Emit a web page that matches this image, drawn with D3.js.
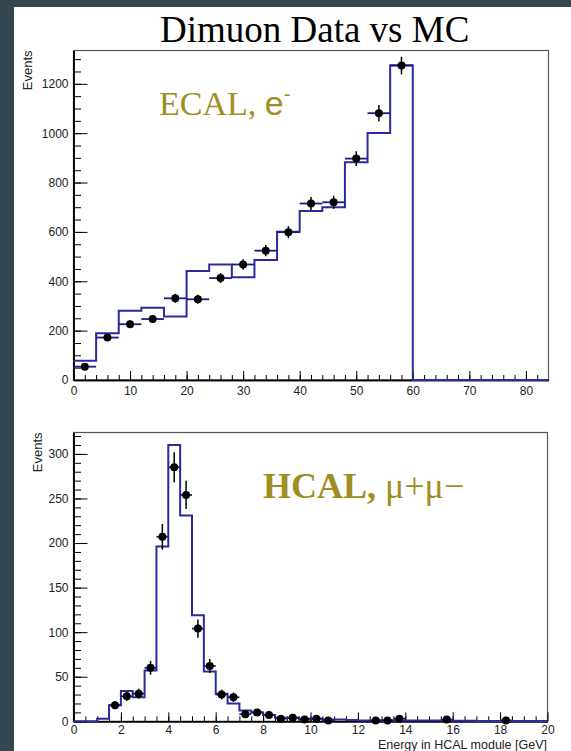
<!DOCTYPE html>
<html>
<head>
<meta charset="utf-8">
<script src="https://cdn.jsdelivr.net/npm/d3@7"></script>
<style>
    body { margin: 0; background: #37474f; }
    .tick text { font-family: "Liberation Sans", Arial, sans-serif; font-size: 12px; fill: #222; }
    .domain { stroke: #000; stroke-width: 1.5; }
    .tick line { stroke: #000; stroke-width: 1; }
</style>
</head>
<body>
<svg id="chart" width="571" height="751"></svg>
<script>
// ECAL panel: bins of 4 GeV
const ecalBinWidth = 4;
const ecalCenters = [2, 6, 10, 14, 18, 22, 26, 30, 34, 38, 42, 46, 50, 54, 58, 62, 66, 70, 74, 78, 82];
const ecalData = [54, 172, 226, 247, 331, 327, 413, 468, 524, 599, 715, 720, 897, 1081, 1274, 0, 0, 0, 0, 0, 0];
const ecalMC = [78, 189, 281, 293, 257, 442, 468, 416, 486, 601, 685, 700, 882, 1001, 1275, 0, 0, 0, 0, 0, 0];
const ecalXTicks = [0, 10, 20, 30, 40, 50, 60, 70, 80];
const ecalYTicks = [0, 200, 400, 600, 800, 1000, 1200];

// HCAL panel: bins of 0.5 GeV
const hcalBinWidth = 0.5;
const hcalCenters = [0.25, 0.75, 1.25, 1.75, 2.25, 2.75, 3.25, 3.75, 4.25, 4.75,
    5.25, 5.75, 6.25, 6.75, 7.25, 7.75, 8.25, 8.75, 9.25, 9.75,
    10.25, 10.75, 11.25, 11.75, 12.25, 12.75, 13.25, 13.75, 14.25, 14.75,
    15.25, 15.75, 16.25, 16.75, 17.25, 17.75, 18.25, 18.75, 19.25, 19.75];
const hcalData = [0, 0, 0, 18, 28, 31, 60, 207, 285, 254,
    104, 62, 30, 27, 8, 10, 7, 3, 4, 2,
    3, 1, 0, 0, 0, 1, 1, 3, 0, 0,
    0, 2, 0, 0, 0, 0, 1, 0, 0, 0];
const hcalMC = [0, 0, 3, 18, 34, 27, 57, 196, 310, 231,
    119, 56, 31, 20, 12, 10, 7, 4, 4, 3,
    3, 2, 2, 1.5, 1, 1, 1, 1, 1, 1,
    1, 1, 0.5, 0.5, 0.3, 0.3, 0.3, 0.3, 0.2, 0.2];
const hcalXTicks = [0, 2, 4, 6, 8, 10, 12, 14, 16, 18, 20];
const hcalYTicks = [0, 50, 100, 150, 200, 250, 300];

const mcColor = '#2b2b9e';
const labelColor = '#a08e22';

const svg = d3.select('#chart');
svg.append('rect').attr('width', 571).attr('height', 751).attr('fill', '#37474f');
svg.append('rect').attr('x', 14).attr('y', 7).attr('width', 557).attr('height', 744).attr('fill', '#fff');

svg.append('text')
    .attr('x', 160).attr('y', 42)
    .attr('font-family', '"Liberation Serif", "Times New Roman", serif')
    .attr('font-size', 37)
    .attr('fill', '#000')
    .text('Dimuon Data vs MC');

/**
 * draw one histogram pad: frame, axes, MC step line and data points with errors
 */
function drawPad(cfg){
    const x = d3.scaleLinear().domain(cfg.xDomain).range([cfg.left, cfg.right]);
    const y = d3.scaleLinear().domain(cfg.yDomain).range([cfg.bottom, cfg.top]);
    const g = svg.append('g');

    g.append('rect')
        .attr('x', cfg.left).attr('y', cfg.top)
        .attr('width', cfg.right - cfg.left).attr('height', cfg.bottom - cfg.top)
        .attr('fill', 'none').attr('stroke', '#555').attr('stroke-width', 1.2);

    // minor ticks first, then major ticks with labels
    g.append('g').attr('transform', 'translate(' + cfg.left + ',0)')
        .call(d3.axisLeft(y).tickValues(d3.range(cfg.yDomain[0], cfg.yDomain[1], cfg.yMinor))
            .tickSizeInner(-7.5).tickSizeOuter(0).tickFormat(''));
    g.append('g').attr('transform', 'translate(' + cfg.left + ',0)')
        .call(d3.axisLeft(y).tickValues(cfg.yTicks).tickFormat(d3.format('d'))
            .tickSizeInner(-14).tickSizeOuter(0).tickPadding(5));
    g.append('g').attr('transform', 'translate(0,' + cfg.bottom + ')')
        .call(d3.axisBottom(x).tickValues(d3.range(cfg.xDomain[0], cfg.xDomain[1], cfg.xMinor))
            .tickSizeInner(-5).tickSizeOuter(0).tickFormat(''));
    g.append('g').attr('transform', 'translate(0,' + cfg.bottom + ')')
        .call(d3.axisBottom(x).tickValues(cfg.xTicks).tickFormat(d3.format('d'))
            .tickSizeInner(-9).tickSizeOuter(0).tickPadding(cfg.xPad));

    // MC histogram as a step line
    const pts = [];
    cfg.centers.forEach(function(c, i){
        pts.push([c - cfg.binWidth / 2, cfg.mc[i]]);
        pts.push([c + cfg.binWidth / 2, cfg.mc[i]]);
    });
    g.append('path')
        .attr('d', d3.line().x(d => x(d[0])).y(d => y(d[1]))(pts))
        .attr('fill', 'none').attr('stroke', mcColor).attr('stroke-width', 2);

    // data points
    const pointData = cfg.centers.map((c, i) => ({c: c, n: cfg.data[i]})).filter(d => d.n > 0);
    const pg = g.append('g');
    pg.selectAll('.xerr').data(pointData).enter().append('line')
        .attr('x1', d => x(d.c - cfg.binWidth / 2)).attr('x2', d => x(d.c + cfg.binWidth / 2))
        .attr('y1', d => y(d.n)).attr('y2', d => y(d.n))
        .attr('stroke', '#1c1c80').attr('stroke-width', 1.8);
    pg.selectAll('.yerr').data(pointData).enter().append('line')
        .attr('x1', d => x(d.c)).attr('x2', d => x(d.c))
        .attr('y1', d => y(d.n - Math.sqrt(d.n))).attr('y2', d => y(d.n + Math.sqrt(d.n)))
        .attr('stroke', '#000').attr('stroke-width', 1.5);
    pg.selectAll('circle').data(pointData).enter().append('circle')
        .attr('cx', d => x(d.c)).attr('cy', d => y(d.n)).attr('r', 4)
        .attr('fill', '#000');

    g.append('text')
        .attr('transform', 'translate(' + cfg.eventsX + ',' + cfg.top + ') rotate(-90)')
        .attr('text-anchor', 'end')
        .attr('font-family', '"Liberation Sans", Arial, sans-serif')
        .attr('font-size', 13).attr('fill', '#222')
        .text('Events');
    return g;
}

drawPad({
    xDomain: [0, 84], yDomain: [0, 1335],
    left: 73.5, right: 548.5, top: 50.5, bottom: 380,
    xTicks: ecalXTicks, yTicks: ecalYTicks, xMinor: 2, yMinor: 50, xPad: 6,
    centers: ecalCenters, data: ecalData, mc: ecalMC, binWidth: ecalBinWidth,
    eventsX: 31.5
});

const hcal = drawPad({
    xDomain: [0, 20], yDomain: [0, 324],
    left: 73.5, right: 547.5, top: 432.5, bottom: 721.3,
    xTicks: hcalXTicks, yTicks: hcalYTicks, xMinor: 0.5, yMinor: 10, xPad: 4,
    centers: hcalCenters, data: hcalData, mc: hcalMC, binWidth: hcalBinWidth,
    eventsX: 42
});

hcal.append('text')
    .attr('x', 547).attr('y', 748.5)
    .attr('text-anchor', 'end')
    .attr('font-family', '"Liberation Sans", Arial, sans-serif')
    .attr('font-size', 12.5).attr('fill', '#222')
    .text('Energy in HCAL module [GeV]');

// pad labels
const ecalLabel = svg.append('text')
    .attr('x', 159).attr('y', 115)
    .attr('font-family', '"Liberation Serif", "Times New Roman", serif')
    .attr('font-size', 34).attr('fill', labelColor);
ecalLabel.append('tspan').text('ECAL, ');
ecalLabel.append('tspan').attr('font-family', '"Liberation Sans", Arial, sans-serif').text('e');
ecalLabel.append('tspan').attr('font-family', '"Liberation Sans", Arial, sans-serif')
    .attr('font-size', 20).attr('dy', -14).text('-');

const hcalLabel = svg.append('text')
    .attr('x', 263).attr('y', 498)
    .attr('font-family', '"Liberation Serif", "Times New Roman", serif')
    .attr('font-size', 36).attr('fill', labelColor);
hcalLabel.append('tspan').attr('font-weight', 'bold').text('HCAL, ');
hcalLabel.append('tspan').text('\u03bc+\u03bc\u2212');
</script>
</body>
</html>
